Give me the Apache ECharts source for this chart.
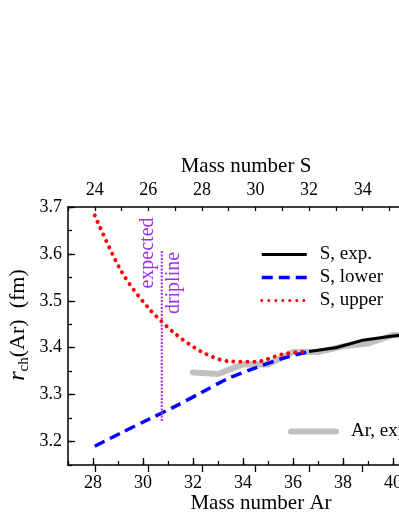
<!DOCTYPE html>
<html><head><meta charset="utf-8">
<script src="https://cdn.jsdelivr.net/npm/echarts@6/dist/echarts.min.js"></script>
<style>html,body{margin:0;padding:0;background:#fff;overflow:hidden;width:399px;height:516px}#c{width:470px;height:516px}</style>
</head><body><div id="c"></div>
<script>
// ---- data ----
const S_EXP_MASS = [32, 33, 34, 35, 36];
const S_EXP_R    = [3.392, 3.400, 3.416, 3.424, 3.431];
const S_CALC_MASS = [24, 25, 26, 27, 28, 29, 30, 31, 32];
const S_LOWER_R   = [3.190, 3.219, 3.247, 3.275, 3.305, 3.335, 3.357, 3.377, 3.392];
const S_UPPER_R   = [3.682, 3.562, 3.485, 3.430, 3.391, 3.371, 3.370, 3.386, 3.393];
const AR_MASS  = [32, 33, 34, 35, 36, 37, 38, 39, 40, 41, 42];
const AR_EXP_R = [3.347, 3.344, 3.365, 3.364, 3.391, 3.391, 3.403, 3.409, 3.427, 3.425, 3.435];
const DRIPLINE_S = 26.5;
const DRIPLINE_R = [3.244, 3.606];
const SERIES_NAMES = ['S, exp.', 'S, lower', 'S, upper', 'Ar, exp.'];

const FONT = 'Liberation Serif';
const PURPLE = '#9a2ff0';
const chart = echarts.init(document.getElementById('c'), null, {renderer: 'canvas'});
const pair = (xs, ys) => xs.map((x, i) => [x, ys[i]]);
const lineAx = {show: true, lineStyle: {color: '#000', width: 1.5}};
const minorTick = {show: true, inside: true, length: 4, lineStyle: {color: '#000', width: 1.3}};
const majorTick = {show: true, inside: true, length: 7, lineStyle: {color: '#000', width: 1.3}};
const lbl = {fontFamily: FONT, fontSize: 18, color: '#000'};
const hidden = (g) => ({type: 'value', gridIndex: g, show: false, min: 0, max: 1});
const legendText = {fontFamily: FONT, fontSize: 19, color: '#000', lineHeight: 19};

chart.setOption({
  animation: false,
  backgroundColor: '#fff',
  grid: [
    {left: 68, top: 207, width: 375, height: 258},
    {left: 93, top: 207, width: 350, height: 258},
    {left: 94.786, top: 207, width: 348.214, height: 258},
    {left: 68, top: 207, width: 375, height: 234.5}
  ],
  xAxis: [
    {type: 'value', gridIndex: 0, position: 'bottom', min: 27, max: 42, interval: 1,
     axisLine: lineAx, axisTick: minorTick, axisLabel: {show: false}, splitLine: {show: false}},
    {type: 'value', gridIndex: 0, position: 'top', min: 23, max: 37, interval: 1,
     axisLine: lineAx, axisTick: minorTick, axisLabel: {show: false}, splitLine: {show: false}},
    {type: 'value', gridIndex: 1, position: 'bottom', min: 28, max: 42, interval: 2,
     axisLine: {show: false}, axisTick: majorTick, splitLine: {show: false},
     axisLabel: Object.assign({margin: 9, formatter: v => (v % 2 === 0 ? String(v) : '')}, lbl)},
    {type: 'value', gridIndex: 2, position: 'top', min: 24, max: 37, interval: 2,
     axisLine: {show: false}, axisTick: majorTick, splitLine: {show: false},
     axisLabel: Object.assign({margin: 8, formatter: v => (v % 2 === 0 ? String(v) : '')}, lbl)},
    hidden(3)
  ],
  yAxis: [
    {type: 'value', gridIndex: 0, min: 3.15, max: 3.7, interval: 0.05,
     axisLine: lineAx, axisTick: minorTick, axisLabel: {show: false}, splitLine: {show: false}},
    hidden(1), hidden(2),
    {type: 'value', gridIndex: 3, min: 3.2, max: 3.7, interval: 0.1,
     axisLine: {show: false}, axisTick: majorTick, splitLine: {show: false},
     axisLabel: Object.assign({margin: 6, formatter: v => v.toFixed(1)}, lbl)}
  ],
  legend: [
    {data: [
       {name: SERIES_NAMES[0], lineStyle: {width: 3}},
       {name: SERIES_NAMES[1], lineStyle: {width: 3.5}},
       {name: SERIES_NAMES[2], lineStyle: {width: 3}}],
     orient: 'vertical', left: 255, top: 240,
     itemWidth: 45, itemHeight: 14, itemGap: 4, itemStyle: {opacity: 0},
     textStyle: Object.assign({padding: [0, 0, 0, 8]}, legendText)},
    {data: [{name: SERIES_NAMES[3], lineStyle: {width: 6}}],
     orient: 'vertical', left: 283, top: 417,
     itemWidth: 45, itemHeight: 14, itemStyle: {opacity: 0},
     textStyle: Object.assign({padding: [0, 0, 0, 10]}, legendText)}
  ],
  series: [
    {name: SERIES_NAMES[3], type: 'line', xAxisIndex: 0, yAxisIndex: 0, data: pair(AR_MASS, AR_EXP_R),
     symbol: 'none', z: 1, color: '#c0c0c0',
     lineStyle: {color: '#c0c0c0', width: 6, cap: 'round', join: 'round'}},
    {name: SERIES_NAMES[1], type: 'line', xAxisIndex: 1, yAxisIndex: 0, data: pair(S_CALC_MASS, S_LOWER_R),
     symbol: 'none', smooth: 0.3, z: 3, color: '#0000ff',
     lineStyle: {color: '#0000ff', width: 3.5, type: [11, 6]}},
    {name: SERIES_NAMES[2], type: 'line', xAxisIndex: 1, yAxisIndex: 0, data: pair(S_CALC_MASS, S_UPPER_R),
     symbol: 'none', smooth: 0.3, z: 4, color: '#ff0000',
     lineStyle: {color: '#ff0000', width: 4, type: [0.01, 7], cap: 'round'}},
    {name: SERIES_NAMES[0], type: 'line', xAxisIndex: 1, yAxisIndex: 0, data: pair(S_EXP_MASS, S_EXP_R),
     symbol: 'none', z: 5, color: '#000',
     lineStyle: {color: '#000', width: 3}},
    {name: 'dripline', type: 'line', xAxisIndex: 1, yAxisIndex: 0,
     data: DRIPLINE_R.map(r => [DRIPLINE_S, r]), symbol: 'none', z: 6, color: PURPLE,
     lineStyle: {color: PURPLE, width: 2, type: [2, 1.5]}}
  ],
  graphic: [
    {type: 'text', x: 246, y: 166, style: {text: 'Mass number S', fontFamily: FONT, fontSize: 21, fill: '#000', align: 'center', verticalAlign: 'middle'}},
    {type: 'text', x: 261, y: 503, style: {text: 'Mass number Ar', fontFamily: FONT, fontSize: 21, fill: '#000', align: 'center', verticalAlign: 'middle'}},
    {type: 'text', x: 18, y: 325, rotation: Math.PI / 2,
     style: {text: '{r|r}{s|ch}{n|(Ar)  (fm)}', align: 'center', verticalAlign: 'middle',
       rich: {
         r: {fontFamily: FONT, fontSize: 24, fontStyle: 'italic', fill: '#000', lineHeight: 28},
         s: {fontFamily: FONT, fontSize: 15, fill: '#000', lineHeight: 15, verticalAlign: 'bottom'},
         n: {fontFamily: FONT, fontSize: 22, fill: '#000', lineHeight: 28}
       }}},
    {type: 'text', x: 148, y: 253, rotation: Math.PI / 2,
     style: {text: 'expected', fontFamily: FONT, fontSize: 20, fill: PURPLE, align: 'center', verticalAlign: 'middle'}},
    {type: 'text', x: 173.5, y: 283, rotation: Math.PI / 2,
     style: {text: 'dripline', fontFamily: FONT, fontSize: 20, fill: PURPLE, align: 'center', verticalAlign: 'middle'}}
  ]
});
</script></body></html>
